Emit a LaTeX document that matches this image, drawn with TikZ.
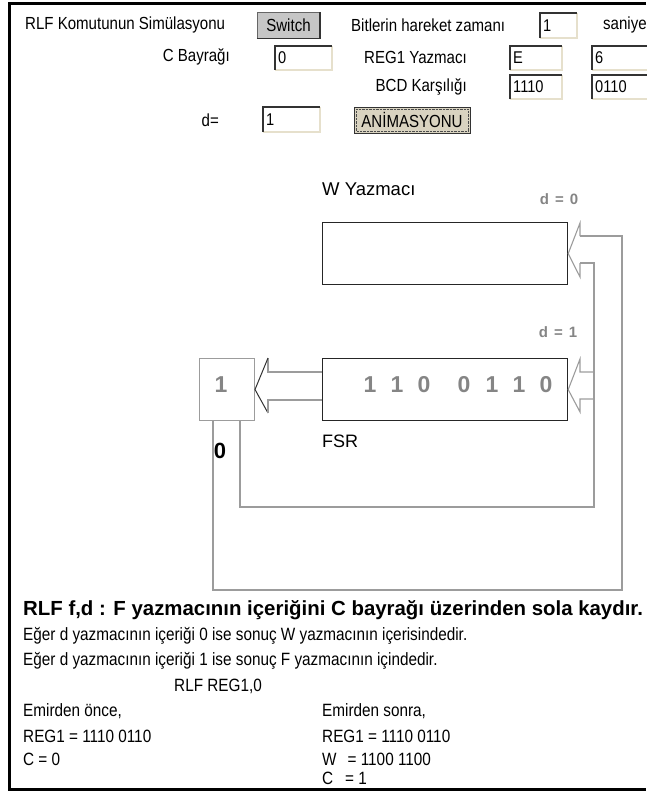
\documentclass[tikz,border=0pt]{standalone}
\usepackage{fontspec}
\setmainfont{Liberation Sans}
\newfontfamily\winfont[FakeStretch=0.86]{Liberation Sans}
\usetikzlibrary{positioning}

\definecolor{pipe}{HTML}{9C9C9C}
\definecolor{bitgray}{HTML}{858585}
\definecolor{winbeige}{HTML}{E6E0CC}
\definecolor{btngray}{HTML}{C6C6C6}
\definecolor{btnbeige}{HTML}{D9D3C0}

\begin{document}
\begin{tikzpicture}[x=1pt,y=-1pt,
  lbl/.style={inner sep=0pt,font=\winfont\fontsize{17.5}{20}\selectfont},
  fld/.style={inner sep=0pt,anchor=west,font=\winfont\fontsize{17}{19}\selectfont},
  txt/.style={inner sep=0pt,anchor=west,font=\winfont\fontsize{17.8}{19}\selectfont},
  bit/.style={inner sep=0pt,text=bitgray,font=\bfseries\fontsize{23}{26}\selectfont},
  dlbl/.style={inner sep=0pt,text=bitgray,font=\bfseries\fontsize{15}{17}\selectfont},
  reg/.style={draw=black!85,line width=1.2pt,minimum width=245pt,minimum height=62pt,inner sep=0pt,anchor=north west},
  pipeline/.style={draw=pipe,line width=1.1pt}]
\useasboundingbox (0,0) rectangle (646,792);
\draw[line width=3pt] (646,4) -- (9.5,4) -- (9.5,789.5) -- (646,789.5);

\node[lbl,anchor=west] (simname) at (25,25) {RLF Komutunun Simülasyonu};
\node[draw=black!60,fill=btngray,minimum width=63pt,minimum height=26pt,inner sep=0pt,font=\winfont\fontsize{17.5}{20}\selectfont] (switch) at (288.5,25.5) {Switch};
\draw[black!80,line width=1.5pt] (switch.south west) -- (switch.south east) -- (switch.north east);
\node[lbl,anchor=west] (timelbl) at (351,25) {Bitlerin hareket zamanı};
\node[lbl,anchor=west] (unit) at (603,25) {saniye};
\node[lbl,anchor=east] (clbl) at (230,57) {C Bayrağı};
\node[lbl,anchor=east] (reglbl) at (467,57) {REG1 Yazmacı};
\node[lbl,anchor=east] (bcdlbl) at (467,87) {BCD Karşılığı};
\node[lbl,anchor=east] (dlbl) at (219,120) {d=};
\foreach \xa/\ya/\xb/\yb/\val/\nm in {540/13/577/38/1/tbox,275/46/332/70/0/cbox,510/46/562/70/E/hibox,592/46/652/70/6/lobox,510/75/562/99/1110/hibcd,592/75/652/99/0110/lobcd,263/107/320/132/1/dbox}{
  \fill[white] (\xa,\ya) rectangle (\xb,\yb);
  \draw[winbeige,line width=1.2pt] (\xa,\yb) -- (\xb,\yb) -- (\xb,\ya);
  \draw[black!80,line width=1.6pt] (\xa,\yb) -- (\xa,\ya) -- (\xb,\ya);
  \node[fld] (\nm) at (\xa+3,{(\ya+\yb)/2}) {\val};
}
\node[draw=black!80,fill=btnbeige,minimum width=116pt,minimum height=26pt,inner sep=0pt,font=\winfont\fontsize{17.5}{20}\selectfont] (anim) at (412,120) {ANİMASYONU};
\draw[densely dotted,black!70] ([shift={(2.5pt,2.5pt)}]anim.south west) rectangle ([shift={(-2.5pt,-2.5pt)}]anim.north east);

\node[reg] (wreg) at (322,222) {};
\node[reg] (fsr) at (322,358) {};
\node[draw=pipe,line width=1pt,minimum width=55pt,minimum height=62pt,inner sep=0pt,anchor=north west] (cflag) at (199,358) {};
\node[bit] (cbit) at (221,385) {1};
\node[inner sep=0pt,font=\bfseries\fontsize{22}{24}\selectfont] (cout) at (220,451) {0};
\node[inner sep=0pt,anchor=west,font=\fontsize{18.5}{20}\selectfont] (wname) at (322,189) {W Yazmacı};
\node[inner sep=0pt,anchor=west,font=\fontsize{18}{20}\selectfont] (fname) at (322,441) {FSR};
\node[dlbl] (dzero) at (559,199) {d\hspace{6pt}=\hspace{6pt}0};
\node[dlbl] (done) at (558,332) {d\hspace{6pt}=\hspace{6pt}1};
\foreach \x/\b [count=\i] in {370/1,397/1,424/0,464/0,492/1,519/1,546/0}
  \node[bit] (b\i) at (\x,385) {\b};

\draw[pipeline] (580,236) -- (580,223) -- (wreg.east) -- (580,277) -- (580,263);
\draw[pipeline] (580,236) -- (622,236) -- (622,590) -- (213,590) -- (213,420);
\draw[pipeline] (580,263) -- (594,263) -- (594,507) -- (240,507) -- (240,420);
\draw[pipeline] (594,372) -- (580,372) -- (580,359) -- (fsr.east) -- (580,412) -- (580,399) -- (594,399);
\draw[pipeline] (322,372) -- (268,372) -- (268,358);
\draw[black!80,line width=1pt] (268,358) -- (cflag.east) -- (268,413);
\draw[pipeline] (268,413) -- (268,400) -- (322,400);

\node[inner sep=0pt,anchor=west,font=\bfseries\fontsize{20.4}{22}\selectfont] (rlfdef) at (23,610) {RLF f,d : F yazmacının içeriğini C bayrağı üzerinden sola kaydır.};
\node[txt] (casezero) at (23,636) {Eğer d yazmacının içeriği 0 ise sonuç W yazmacının içerisindedir.};
\node[txt] (caseone) at (23,661) {Eğer d yazmacının içeriği 1 ise sonuç F yazmacının içindedir.};
\node[txt] (example) at (174,686) {RLF REG1,0};
\node[txt] (before) at (23,711) {Emirden önce,};
\node[txt] (after) at (322,711) {Emirden sonra,};
\node[txt] (regbefore) at (23,736) {REG1 = 1110 0110};
\node[txt] (regafter) at (322,736) {REG1 = 1110 0110};
\node[txt] (cbefore) at (23,759) {C = 0};
\node[txt] (wafter) at (322,759) {W\hspace{11pt}= 1100 1100};
\node[txt] (cafter) at (322,778) {C\hspace{12pt}= 1};
\end{tikzpicture}
\end{document}
